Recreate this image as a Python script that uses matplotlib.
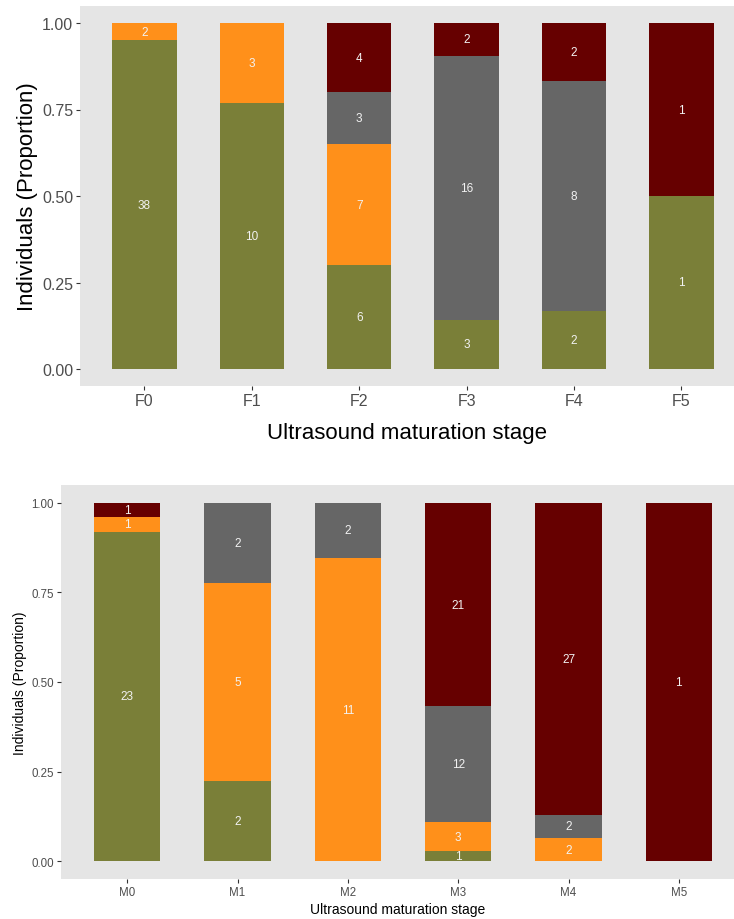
import numpy as np
import matplotlib
matplotlib.use('Agg')
import matplotlib.pyplot as plt

plt.rcParams['font.family'] = ['Liberation Sans', 'DejaVu Sans']

# female stages
stages_f = ['F0', 'F1', 'F2', 'F3', 'F4', 'F5']
green_f = [38, 10, 6, 3, 2, 1]
orange_f = [2, 3, 7, 0, 0, 0]
gray_f = [0, 0, 3, 16, 8, 0]
red_f = [0, 0, 4, 2, 2, 1]

# male stages
stages_m = ['M0', 'M1', 'M2', 'M3', 'M4', 'M5']
green_m = [23, 2, 0, 1, 0, 0]
orange_m = [1, 5, 11, 3, 2, 0]
gray_m = [0, 2, 2, 12, 2, 0]
red_m = [1, 0, 0, 21, 27, 1]

colors = ['#7a7f38', '#ff901a', '#666666', '#660000']

W, H = 734, 920
fig = plt.figure(figsize=(W / 100, H / 100), dpi=100)


def panel(rect, stages, series, tick_fs, title_fs, lab_fs, xright, lpad_x, lpad_y):
    ax = fig.add_axes(rect)
    ax.set_facecolor('#e5e5e5')
    counts = np.array(series, dtype=float)
    totals = counts.sum(axis=0)
    props = counts / totals
    x = np.arange(len(stages))
    bottom = np.zeros(len(stages))
    for k in range(len(series)):
        ax.bar(x, props[k], 0.6, bottom=bottom, color=colors[k], linewidth=0)
        for i in range(len(stages)):
            if counts[k, i] > 0:
                ax.text(x[i], bottom[i] + props[k, i] / 2, '%d' % counts[k, i],
                        ha='center', va='center', color='#f2f2f2', fontsize=lab_fs)
        bottom += props[k]
    ax.set_xlim(-0.6, xright)
    ax.set_ylim(-0.05, 1.05)
    ax.set_xticks(x)
    ax.set_xticklabels(stages)
    ax.set_yticks([0, 0.25, 0.5, 0.75, 1.0])
    ax.set_yticklabels(['0.00', '0.25', '0.50', '0.75', '1.00'])
    for s in ax.spines.values():
        s.set_visible(False)
    ax.tick_params(labelsize=tick_fs, colors='#333333', labelcolor='#4d4d4d',
                   length=3, width=0.8, pad=2)
    ax.set_xlabel('Ultrasound maturation stage', fontsize=title_fs, labelpad=lpad_x)
    ax.set_ylabel('Individuals (Proportion)', fontsize=title_fs, labelpad=lpad_y)
    return ax


# top panel: axes from x=80 to 745 (cropped at 734), y 6.7..387.3
top_l = 80 / W
top_b = 1 - 387.3 / H
top_h = (387.3 - 6.7) / H
panel([top_l, top_b, 1 - top_l, top_h], stages_f, [green_f, orange_f, gray_f, red_f],
      11.5, 16, 8.5, 5.49, 10, 3)

# bottom panel: axes from x=61, y 486..880
bot_l = 61 / W
bot_b = 1 - 880 / H
bot_h = (880 - 486) / H
panel([bot_l, bot_b, 1 - bot_l, bot_h], stages_m, [green_m, orange_m, gray_m, red_m],
      8.3, 10, 8.5, 5.5, 3, 3)

plt.savefig('out.png', dpi=100)
